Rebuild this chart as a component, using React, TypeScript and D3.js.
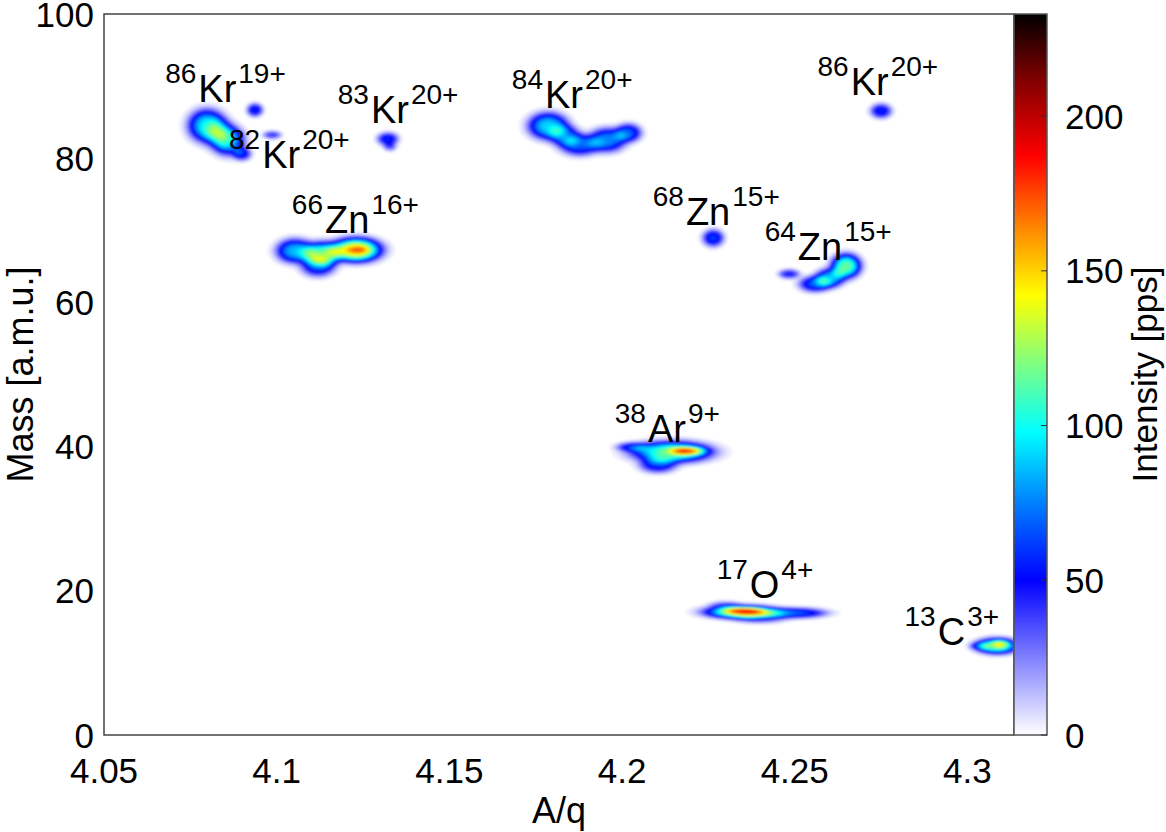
import React, { useMemo } from "react";
import * as d3 from "d3";

// Axis ticks and ranges
const aqTicks = [4.05, 4.1, 4.15, 4.2, 4.25, 4.3];
const massTicks = [0, 20, 40, 60, 80, 100];
const intensityTicks = [0, 50, 100, 150, 200];
const aqDomain = [4.05, 4.3135];
const massDomain = [0, 100];
const intensityMax = 233;

// Colour map: intensity stop -> colour
const cmapStops = [0, 25, 50, 75, 98, 120, 142, 165, 187, 212, 233];
const cmapColors = [
  "#ffffff", "#8080ff", "#0000ff", "#0080ff", "#00ffff", "#80ff80",
  "#ffff00", "#ff8000", "#ff0000", "#800000", "#000000",
];

// Flat-topped peak components per ion:
// [A/q, mass, width A/q, width mass, peak intensity (pps)]
const kr86q19 = [
  [4.0798, 84.5, 0.00405, 1.7, 95],
  [4.0836, 83.22, 0.00348, 1.66, 40],
  [4.0862, 82.39, 0.00348, 1.53, 75],
  [4.09, 80.58, 0.00203, 0.69, 50],
  [4.0937, 86.69, 0.00174, 0.69, 55],
];
const kr82q20 = [[4.0987, 83.22, 0.00203, 0.42, 38]];
const kr83q20 = [
  [4.1322, 82.66, 0.00232, 0.69, 55],
  [4.1328, 81.55, 0.00145, 0.42, 30],
];
const zn66q16 = [
  [4.1053, 67.13, 0.00405, 1.25, 85],
  [4.1131, 66.71, 0.00405, 1.25, 105],
  [4.123, 67.27, 0.0055, 1.25, 150],
  [4.1236, 67.27, 0.00232, 0.35, 22],
  [4.112, 65.05, 0.00376, 1.11, 60],
];
const kr84q20 = [
  [4.1786, 84.47, 0.00434, 1.39, 90],
  [4.1835, 83.08, 0.00348, 1.11, 55],
  [4.1878, 81.83, 0.00434, 1.11, 65],
  [4.1957, 82.52, 0.00405, 1.25, 75],
  [4.2018, 83.5, 0.0029, 0.97, 65],
];
const kr86q20 = [[4.275, 86.55, 0.00232, 0.76, 55]];
const zn68q15 = [[4.2264, 68.93, 0.00232, 0.9, 60]];
const zn64q15 = [
  [4.2649, 65.05, 0.00319, 1.25, 115],
  [4.2602, 63.38, 0.00319, 0.97, 80],
  [4.2559, 62.55, 0.00348, 0.83, 65],
  [4.2484, 63.94, 0.00232, 0.49, 45],
];
const ar38q9 = [
  [4.2145, 39.25, 0.00869, 1.11, 115],
  [4.2191, 39.39, 0.00405, 0.42, 70],
  [4.2104, 37.45, 0.00405, 0.83, 55],
  [4.2029, 39.94, 0.00348, 0.49, 45],
];
const o17q4 = [
  [4.2348, 17.06, 0.00811, 0.69, 130],
  [4.2356, 17.2, 0.00463, 0.35, 55],
  [4.2501, 16.92, 0.00695, 0.55, 65],
  [4.24, 16.23, 0.00579, 0.55, 35],
  [4.2298, 18.03, 0.00348, 0.42, 25],
];
const c13q3 = [
  [4.3086, 12.34, 0.00463, 0.83, 110],
  [4.3095, 12.62, 0.00203, 0.42, 35],
  [4.3037, 12.34, 0.00232, 0.42, 30],
];
const ionPeaks = [
  kr86q19, kr82q20, kr83q20, zn66q16, kr84q20, kr86q20,
  zn68q15, zn64q15, ar38q9, o17q4, c13q3,
];

// Ion labels: [A/q, mass at label baseline, mass number, element, charge]
const ionLabels: [number, number, string, string, string][] = [
  [4.0677, 87.8, "86", "Kr", "19+"],
  [4.0862, 78.64, "82", "Kr", "20+"],
  [4.1177, 84.88, "83", "Kr", "20+"],
  [4.1044, 69.63, "66", "Zn", "16+"],
  [4.1681, 86.96, "84", "Kr", "20+"],
  [4.2566, 88.77, "86", "Kr", "20+"],
  [4.2089, 70.74, "68", "Zn", "15+"],
  [4.2413, 65.88, "64", "Zn", "15+"],
  [4.1979, 40.64, "38", "Ar", "9+"],
  [4.2274, 19.0, "17", "O", "4+"],
  [4.2818, 12.48, "13", "C", "3+"],
];

const FONT = "'Liberation Sans', Arial, Helvetica, sans-serif";

export default function App() {
  const width = 1166;
  const height = 832;
  const left = 104;
  const top = 14;
  const W = 910;
  const H = 721;
  const cbX = 1014;
  const cbW = 33;
  const cell = 2;

  const x = d3.scaleLinear().domain(aqDomain).range([0, W]);
  const y = d3.scaleLinear().domain(massDomain).range([H, 0]);
  const cb = d3.scaleLinear().domain([0, intensityMax]).range([H, 0]);
  const color = d3
    .scaleLinear<string>()
    .domain(cmapStops)
    .range(cmapColors)
    .interpolate(d3.interpolateRgb)
    .clamp(true);

  const contours = useMemo(() => {
    const nx = Math.ceil(W / cell);
    const ny = Math.ceil(H / cell);
    const values = new Float64Array(nx * ny);
    for (const ion of ionPeaks) {
      for (const [aq, m, saq, sm, peak] of ion) {
        const px = x(aq);
        const py = y(m);
        const sx = x(aq + saq) - px;
        const sy = py - y(m + sm);
        const i0 = Math.max(0, Math.floor((px - 2.6 * sx) / cell));
        const i1 = Math.min(nx - 1, Math.ceil((px + 2.6 * sx) / cell));
        const j0 = Math.max(0, Math.floor((py - 2.6 * sy) / cell));
        const j1 = Math.min(ny - 1, Math.ceil((py + 2.6 * sy) / cell));
        for (let j = j0; j <= j1; j++) {
          const dy = ((j + 0.5) * cell - py) / sy;
          for (let i = i0; i <= i1; i++) {
            const dx = ((i + 0.5) * cell - px) / sx;
            const r = Math.sqrt(dx * dx + dy * dy);
            values[j * nx + i] += peak * Math.exp(-0.5 * r * r * r);
          }
        }
      }
    }
    const thresholds = d3.range(2, intensityMax, 3);
    return d3.contours().size([nx, ny]).thresholds(thresholds)(Array.from(values));
  }, []);

  const path = d3.geoPath();
  const gradStops = cmapStops.map((s, i) => ({
    offset: `${(s / intensityMax) * 100}%`,
    color: cmapColors[i],
  }));

  return (
    <svg
      width={width}
      height={height}
      style={{ position: "absolute", left: 0, top: 0, background: "#fff" }}
      fontFamily={FONT}
    >
      <defs>
        <clipPath id="plot-clip">
          <rect x={0} y={0} width={W} height={H} />
        </clipPath>
        <filter id="soft" x="-5%" y="-5%" width="110%" height="110%">
          <feGaussianBlur stdDeviation={1.1} />
        </filter>
        <linearGradient id="cb-grad" x1="0" y1="1" x2="0" y2="0">
          {gradStops.map((g, i) => (
            <stop key={i} offset={g.offset} stopColor={g.color} />
          ))}
        </linearGradient>
      </defs>
      <rect x={0} y={0} width={width} height={height} fill="#fff" />

      {/* intensity map */}
      <g transform={`translate(${left},${top})`}>
        <g clipPath="url(#plot-clip)">
          <g filter="url(#soft)">
            <g transform={`scale(${cell})`}>
              {contours.map((c, i) => (
                <path key={i} d={path(c) || ""} fill={color(c.value + 1.5)} stroke="none" />
              ))}
            </g>
          </g>
        </g>
        <rect x={0} y={0} width={W} height={H} fill="none" stroke="#444" strokeWidth={1.5} />
      </g>

      {/* ion labels */}
      {ionLabels.map(([aq, m, iso, el, q], i) => (
        <text key={i} x={left + x(aq)} y={top + y(m)} fontSize={38} fill="#000">
          <tspan fontSize={28} dy={-19}>{iso}</tspan>
          <tspan fontSize={38} dy={19} dx={2}>{el}</tspan>
          <tspan fontSize={28} dy={-19} dx={2}>{q}</tspan>
        </text>
      ))}

      {/* x axis */}
      {aqTicks.map((t) => (
        <text key={t} x={left + x(t)} y={783} fontSize={35} textAnchor="middle">
          {String(t)}
        </text>
      ))}
      <text x={left + W / 2} y={823} fontSize={36} textAnchor="middle">A/q</text>

      {/* y axis */}
      {massTicks.map((t) => (
        <text key={t} x={left - 10} y={top + y(t)} dy="0.36em" fontSize={35} textAnchor="end">
          {String(t)}
        </text>
      ))}
      <text
        transform={`translate(33,${top + H / 2}) rotate(-90)`}
        fontSize={36}
        textAnchor="middle"
      >
        Mass [a.m.u.]
      </text>

      {/* colour bar */}
      <rect x={cbX} y={top} width={cbW} height={H} fill="url(#cb-grad)" stroke="#555" strokeWidth={1.5} />
      {intensityTicks.map((t) => (
        <g key={t}>
          <line x1={cbX + cbW - 6} x2={cbX + cbW} y1={top + cb(t)} y2={top + cb(t)} stroke="#333" strokeWidth={1} />
          <text x={1065} y={top + cb(t)} dy="0.36em" fontSize={35}>
            {String(t)}
          </text>
        </g>
      ))}
      <text
        transform={`translate(1157,${top + H / 2}) rotate(-90)`}
        fontSize={35}
        textAnchor="middle"
      >
        Intensity [pps]
      </text>
    </svg>
  );
}
